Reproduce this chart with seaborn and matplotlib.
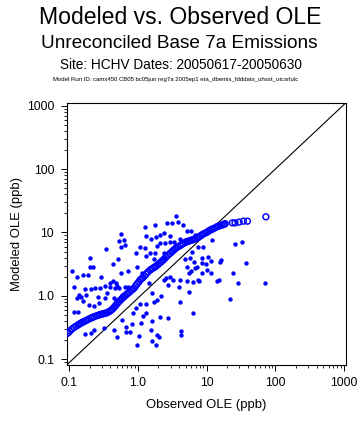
import numpy as np
import pandas as pd
import matplotlib
matplotlib.use("Agg")
import matplotlib.pyplot as plt
import seaborn as sns
from matplotlib.ticker import FixedLocator, FixedFormatter, LogLocator, NullFormatter

# Q-Q curve (sorted observed vs sorted modeled)
qq_obs = [0.0935, 0.098, 0.103, 0.110, 0.118, 0.126, 0.135, 0.142, 0.150, 0.157,
          0.165, 0.174, 0.183, 0.196, 0.209, 0.220, 0.231, 0.247, 0.264, 0.278,
          0.292, 0.307, 0.323, 0.340, 0.357, 0.376, 0.395, 0.415, 0.437, 0.459,
          0.483, 0.508, 0.534, 0.562, 0.591, 0.621, 0.653, 0.687, 0.723, 0.760,
          0.799, 0.840, 0.883, 0.929, 0.977, 1.03, 1.08, 1.13, 1.19, 1.25,
          1.32, 1.41, 1.51, 1.59, 1.67, 1.76, 1.85, 1.98, 2.11, 2.22,
          2.34, 2.46, 2.58, 2.76, 2.95, 3.11, 3.27, 3.44, 3.61, 3.86,
          4.13, 4.34, 4.57, 4.88, 5.22, 5.49, 5.77, 6.07, 6.38, 6.82,
          7.30, 7.68, 8.07, 8.48, 8.92, 9.54, 10.2, 10.7, 11.3, 11.9,
          12.5, 13.4, 14.3, 15.0, 15.8, 16.6, 17.5, 18.1, 18.7,
          23.8, 26.0, 29.8, 34.4, 39.4, 73.0]
qq_mod = [0.253, 0.262, 0.277, 0.297, 0.315, 0.329, 0.344, 0.358, 0.370, 0.381,
          0.391, 0.403, 0.413, 0.430, 0.444, 0.455, 0.466, 0.479, 0.490, 0.500,
          0.508, 0.515, 0.523, 0.531, 0.539, 0.555, 0.573, 0.598, 0.628, 0.668,
          0.713, 0.762, 0.810, 0.857, 0.903, 0.950, 0.996, 1.05, 1.10, 1.15,
          1.21, 1.26, 1.32, 1.42, 1.53, 1.64, 1.77, 1.85, 1.94, 2.06,
          2.20, 2.38, 2.55, 2.64, 2.74, 2.84, 2.95, 3.12, 3.32, 3.49,
          3.66, 3.88, 4.09, 4.38, 4.68, 4.92, 5.18, 5.44, 5.71, 5.95,
          6.21, 6.44, 6.68, 6.93, 7.18, 7.31, 7.45, 7.58, 7.72, 7.94,
          8.16, 8.46, 8.77, 9.09, 9.43, 9.76, 10.1, 10.5, 10.9, 11.2,
          11.5, 11.9, 12.4, 12.6, 12.9, 13.1, 13.3, 13.5, 13.8,
          14.2, 14.2, 14.6, 15.1, 15.1, 17.7]

# paired observations (observed, modeled)
pair_obs = [0.57, 0.53, 0.63, 0.65, 0.58, 0.34, 0.20, 0.51, 0.44, 0.20,
            0.22, 0.11, 0.71, 0.58, 0.13, 0.16, 0.19, 0.29, 0.43, 0.40,
            0.12, 0.17, 0.24, 0.28, 0.33, 0.50, 0.46, 0.65, 0.21, 0.14,
            0.13, 0.15, 0.16, 0.175, 0.195, 0.23, 0.26, 0.27, 0.36, 0.40,
            0.48, 0.45, 0.53, 0.60, 0.71, 0.33, 0.118, 0.135, 0.17, 0.21,
            0.23, 0.32, 0.45, 0.67, 0.67, 0.50, 0.60, 3.6, 1.28, 1.8,
            2.7, 3.2, 3.9, 4.5, 2.4, 2.1, 2.9, 1.31, 1.56, 1.83,
            2.1, 2.5, 3.4, 2.95, 4.1, 4.9, 5.2, 6.0, 6.8, 1.08,
            1.28, 1.9, 2.4, 1.8, 1.5, 0.94, 1.32, 1.73, 0.97, 1.14,
            1.93, 2.4, 6.1, 5.8, 4.8, 6.6, 5.2, 5.9, 6.9, 5.5,
            2.6, 2.95, 3.3, 2.4, 4.1, 5.2, 6.4, 7.6, 2.8, 4.0,
            1.48, 5.5, 6.4, 4.1, 2.2, 1.93, 1.73, 1.6, 1.32, 1.08,
            0.94, 0.85, 1.32, 1.18, 1.11, 1.6, 2.1, 2.8, 0.82, 0.77,
            1.55, 1.9, 2.06, 4.2, 4.2, 1.05, 1.6, 1.85, 0.97, 26,
            33, 37, 11.9, 9.0, 7.5, 8.7, 10.4, 8.7, 9.9, 11.7,
            15.8, 16.3, 7.2, 10.1, 8.7, 11.6, 24, 15.4, 14.1, 7.8,
            28.6, 71, 22]
pair_mod = [9.3, 7.4, 7.6, 6.4, 5.9, 5.4, 3.9, 3.8, 3.2, 2.9,
            2.9, 2.5, 2.5, 2.3, 2.0, 2.1, 2.1, 2.0, 1.7, 1.6,
            1.36, 1.29, 1.32, 1.31, 1.44, 1.42, 1.31, 1.39, 1.26, 1.03,
            0.91, 0.96, 0.83, 1.03, 0.71, 0.69, 0.96, 0.76, 1.09, 1.39,
            1.57, 0.91, 1.31, 1.03, 1.39, 0.91, 0.56, 0.56, 0.25, 0.26,
            0.29, 0.31, 0.29, 0.32, 0.27, 0.225, 0.41, 18, 12.3, 13.1,
            13.9, 14.2, 14.8, 13.1, 9.9, 9.1, 8.8, 8.8, 7.8, 8.4,
            6.9, 6.7, 7.1, 7.1, 7.8, 7.6, 10.6, 10.6, 9.1, 5.9,
            5.6, 6.1, 4.7, 4.8, 4.7, 4.8, 4.2, 3.8, 2.8, 2.3,
            3.3, 3.9, 5.0, 4.0, 3.8, 3.4, 2.9, 2.5, 2.7, 2.3,
            1.9, 2.0, 1.8, 1.77, 1.8, 1.73, 1.66, 1.77, 1.48, 1.39,
            1.57, 1.16, 0.54, 0.79, 0.99, 0.86, 0.80, 1.11, 0.74, 0.74,
            0.63, 0.54, 0.53, 0.48, 0.37, 0.40, 0.46, 0.44, 0.36, 0.27,
            0.29, 0.24, 0.225, 0.28, 0.24, 0.23, 0.19, 0.166, 0.166, 6.5,
            7.0, 3.3, 7.6, 5.9, 5.9, 4.0, 4.1, 3.3, 3.2, 3.5,
            3.4, 3.7, 2.8, 2.6, 2.3, 2.26, 2.3, 1.77, 1.71, 1.73,
            1.6, 1.57, 0.90]

major_ticks = [0.1, 1, 10, 100, 1000]
tick_labels = ["0.1", "1.0", "10", "100", "1000"]

pairs = pd.DataFrame({"obs": pair_obs, "mod": pair_mod})
qq = pd.DataFrame({"obs": qq_obs, "mod": qq_mod})

sns.set_style("ticks")
plt.rcParams['font.family'] = ['Liberation Sans', 'DejaVu Sans']
plt.rcParams.update({"text.color": "black", "axes.labelcolor": "black",
                     "xtick.color": "black", "ytick.color": "black"})

fig = plt.figure(figsize=(3.58, 4.21), dpi=100)
ax = fig.add_axes([66.7 / 358, 1 - 365 / 421, 279.3 / 358, 262.3 / 421])

sns.scatterplot(data=pairs, x="obs", y="mod", ax=ax, color="#0000ff",
                s=10, linewidth=0, zorder=2)
sns.scatterplot(data=qq, x="obs", y="mod", ax=ax, marker="o", s=18,
                facecolors="none", edgecolor="#0000ff", linewidth=1.05, zorder=3)

ax.set_xscale("log")
ax.set_yscale("log")
ax.set_xlim(0.0926, 1069)
ax.set_ylim(0.0804, 1127)
ax.plot([0, 1], [0, 1], transform=ax.transAxes, color="black", lw=0.8, zorder=1)

for axis in (ax.xaxis, ax.yaxis):
    axis.set_major_locator(FixedLocator(major_ticks))
    axis.set_major_formatter(FixedFormatter(tick_labels))
    axis.set_minor_locator(LogLocator(base=10, subs=np.arange(2, 10)))
    axis.set_minor_formatter(NullFormatter())

ax.tick_params(which="major", direction="out", length=4, width=0.7,
               labelsize=8.8, pad=5, colors="black")
ax.tick_params(which="minor", direction="out", length=2.2, width=0.6)
for sp in ax.spines.values():
    sp.set_visible(True)
    sp.set_linewidth(0.8)
    sp.set_color("black")

ax.set_xlabel("Observed OLE (ppb)", fontsize=9.4)
ax.set_ylabel("Modeled OLE (ppb)", fontsize=9.4)
ax.xaxis.set_label_coords(0.5, -0.13)
ax.yaxis.set_label_coords(-0.155, 0.5)

fig.text(0.503, 1 - 17 / 421, "Modeled vs. Observed OLE", ha="center", va="center", fontsize=16.6)
fig.text(0.502, 1 - 43 / 421, "Unreconciled Base 7a Emissions", ha="center", va="center", fontsize=13.7)
fig.text(0.505, 1 - 65 / 421, "Site: HCHV Dates: 20050617-20050630", ha="center", va="center", fontsize=9.8)
fig.text(0.49, 1 - 79.5 / 421,
         "Model Run ID: camx450 CB05 bc05jun reg7a 2005ep1 eta_dbemis_fdddats_uhsst_utcsrlulc",
         ha="center", va="center", fontsize=4.3)

fig.savefig("out.png", dpi=100)
